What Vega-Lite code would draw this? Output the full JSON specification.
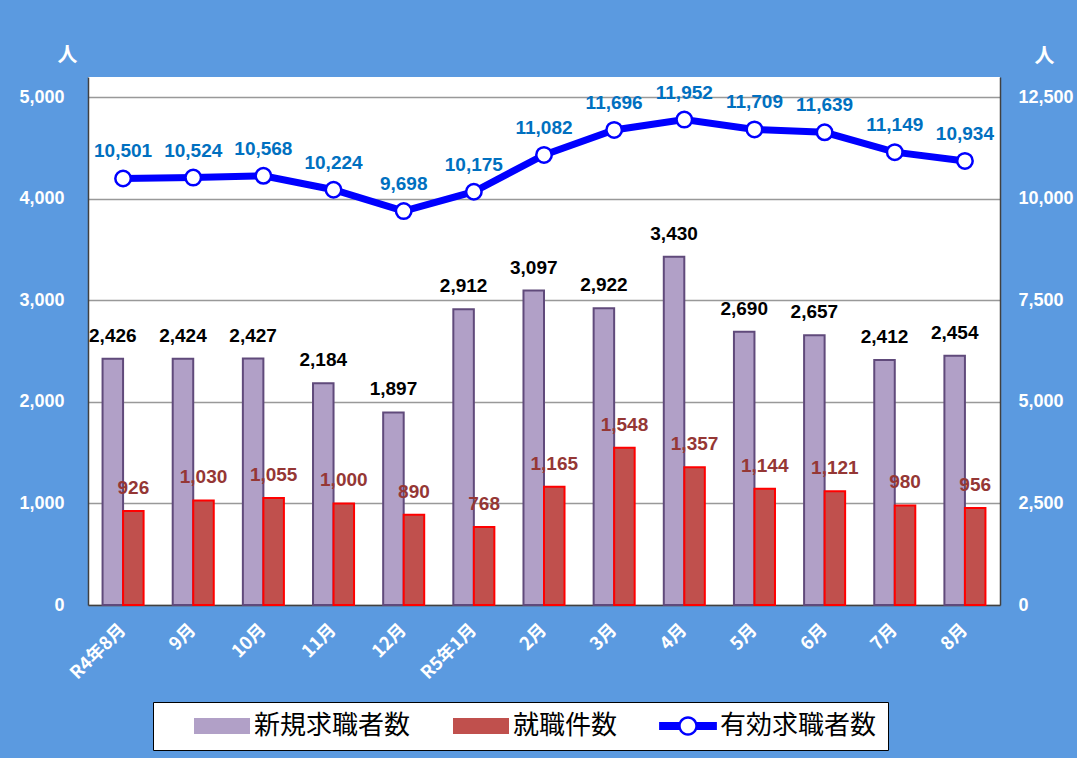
{
  "$schema": "https://vega.github.io/schema/vega-lite/v6.json",
  "width": 912,
  "height": 528,
  "autosize": {"type": "none"},
  "padding": {"left": 88, "top": 77, "right": 77, "bottom": 153},
  "background": "#5b9ae0",
  "config": {
    "view": {"fill": "white", "stroke": null},
    "font": "Liberation Sans"
  },
  "datasets": {
    "main": [
      {"month": "R4年8月", "series": "新規求職者数", "value": 2426},
      {"month": "9月", "series": "新規求職者数", "value": 2424},
      {"month": "10月", "series": "新規求職者数", "value": 2427},
      {"month": "11月", "series": "新規求職者数", "value": 2184},
      {"month": "12月", "series": "新規求職者数", "value": 1897},
      {"month": "R5年1月", "series": "新規求職者数", "value": 2912},
      {"month": "2月", "series": "新規求職者数", "value": 3097},
      {"month": "3月", "series": "新規求職者数", "value": 2922},
      {"month": "4月", "series": "新規求職者数", "value": 3430},
      {"month": "5月", "series": "新規求職者数", "value": 2690},
      {"month": "6月", "series": "新規求職者数", "value": 2657},
      {"month": "7月", "series": "新規求職者数", "value": 2412},
      {"month": "8月", "series": "新規求職者数", "value": 2454},
      {"month": "R4年8月", "series": "就職件数", "value": 926},
      {"month": "9月", "series": "就職件数", "value": 1030},
      {"month": "10月", "series": "就職件数", "value": 1055},
      {"month": "11月", "series": "就職件数", "value": 1000},
      {"month": "12月", "series": "就職件数", "value": 890},
      {"month": "R5年1月", "series": "就職件数", "value": 768},
      {"month": "2月", "series": "就職件数", "value": 1165},
      {"month": "3月", "series": "就職件数", "value": 1548},
      {"month": "4月", "series": "就職件数", "value": 1357},
      {"month": "5月", "series": "就職件数", "value": 1144},
      {"month": "6月", "series": "就職件数", "value": 1121},
      {"month": "7月", "series": "就職件数", "value": 980},
      {"month": "8月", "series": "就職件数", "value": 956},
      {"month": "R4年8月", "series": "有効求職者数", "value": 10501},
      {"month": "9月", "series": "有効求職者数", "value": 10524},
      {"month": "10月", "series": "有効求職者数", "value": 10568},
      {"month": "11月", "series": "有効求職者数", "value": 10224},
      {"month": "12月", "series": "有効求職者数", "value": 9698},
      {"month": "R5年1月", "series": "有効求職者数", "value": 10175},
      {"month": "2月", "series": "有効求職者数", "value": 11082},
      {"month": "3月", "series": "有効求職者数", "value": 11696},
      {"month": "4月", "series": "有効求職者数", "value": 11952},
      {"month": "5月", "series": "有効求職者数", "value": 11709},
      {"month": "6月", "series": "有効求職者数", "value": 11639},
      {"month": "7月", "series": "有効求職者数", "value": 11149},
      {"month": "8月", "series": "有効求職者数", "value": 10934}
    ]
  },
  "layer": [
    {
      "data": {"name": "main"},
      "transform": [{"filter": "datum.series !== '有効求職者数'"}],
      "encoding": {
        "x": {
          "field": "month",
          "type": "nominal",
          "scale": {
            "domain": ["R4年8月", "9月", "10月", "11月", "12月", "R5年1月", "2月", "3月", "4月", "5月", "6月", "7月", "8月"],
            "paddingInner": 0.415,
            "paddingOuter": 0.2075
          },
          "axis": {
            "title": null,
            "labelAngle": -45,
            "labelAlign": "right",
            "labelBaseline": "middle",
            "labelColor": "white",
            "labelFont": "Noto Sans CJK JP",
            "labelFontSize": 18,
            "labelFontWeight": "bold",
            "labelPadding": 22,
            "ticks": false,
            "domain": true,
            "domainColor": "#404040",
            "domainWidth": 1.5
          }
        },
        "xOffset": {
          "field": "series",
          "type": "nominal",
          "scale": {"domain": ["新規求職者数", "就職件数"]}
        },
        "y": {
          "field": "value",
          "type": "quantitative",
          "scale": {"domain": [0, 5200], "nice": false, "zero": true},
          "axis": {
            "values": [0, 1000, 2000, 3000, 4000, 5000],
            "format": ",.0f",
            "title": "人",
            "titleAngle": 0,
            "titleX": -21,
            "titleY": -22,
            "titleAlign": "center",
            "titleBaseline": "middle",
            "titleColor": "white",
            "titleFont": "Noto Sans CJK JP",
            "titleFontSize": 20,
            "titleFontWeight": "bold",
            "labelColor": "white",
            "labelFontSize": 18,
            "labelFontWeight": "bold",
            "labelPadding": 24,
            "ticks": false,
            "domain": true,
            "domainColor": "#404040",
            "domainWidth": 1.5,
            "grid": true,
            "gridColor": "#999999",
            "gridWidth": 1.5
          }
        }
      },
      "layer": [
        {
          "mark": {"type": "bar", "strokeWidth": 2},
          "encoding": {
            "color": {
              "field": "series",
              "type": "nominal",
              "scale": {
                "domain": ["新規求職者数", "就職件数", "有効求職者数"],
                "range": ["#b1a0c7", "#c0504d", "#0000ff"]
              },
              "legend": {
                "title": null,
                "orient": "none",
                "legendX": 65,
                "legendY": 625,
                "direction": "horizontal",
                "fillColor": "white",
                "strokeColor": "black",
                "padding": 11,
                "symbolSize": 2916,
                "symbolOffset": 45,
                "labelOffset": 19,
                "columnPadding": 12,
                "labelFont": "Noto Sans CJK JP",
                "labelFontSize": 26,
                "labelColor": "black",
                "labelLimit": 400,
                "symbolType": {"expr": "datum.value === '有効求職者数' ? 'M-1.07,-0.15L-0.3,-0.15L-0.3,0.15L-1.07,0.15Z M0.3,-0.15L1.07,-0.15L1.07,0.15L0.3,0.15Z M0.36,0A0.36,0.36 0 1,1 -0.36,0A0.36,0.36 0 1,1 0.36,0Z M0.27,0A0.27,0.27 0 1,0 -0.27,0A0.27,0.27 0 1,0 0.27,0Z' : 'M-1,-0.26L1,-0.26L1,0.26L-1,0.26Z'"},
                "symbolStrokeWidth": {"expr": "datum.value === '有効求職者数' ? 0 : 2"}
              }
            },
            "stroke": {
              "field": "series",
              "type": "nominal",
              "scale": {
                "domain": ["新規求職者数", "就職件数", "有効求職者数"],
                "range": ["#604a7b", "#ff0000", "#0000ff"]
              }
            }
          }
        },
        {
          "mark": {"type": "text", "baseline": "alphabetic", "dy": -17, "fontSize": 19, "fontWeight": "bold"},
          "encoding": {
            "text": {"field": "value", "type": "quantitative", "format": ","},
            "color": {
              "condition": {"test": "datum.series === '就職件数'", "value": "#953735"},
              "value": "#000000"
            }
          }
        }
      ]
    },
    {
      "data": {"name": "main"},
      "transform": [{"filter": "datum.series === '有効求職者数'"}],
      "encoding": {
        "x": {"field": "month", "type": "nominal"},
        "y": {
          "field": "value",
          "type": "quantitative",
          "scale": {"domain": [0, 13000], "nice": false, "zero": true},
          "axis": {
            "orient": "right",
            "values": [0, 2500, 5000, 7500, 10000, 12500],
            "format": ",.0f",
            "title": "人",
            "titleAngle": 0,
            "titleX": 44,
            "titleY": -21,
            "titleAlign": "center",
            "titleBaseline": "middle",
            "titleColor": "white",
            "titleFont": "Noto Sans CJK JP",
            "titleFontSize": 20,
            "titleFontWeight": "bold",
            "labelColor": "white",
            "labelFontSize": 18,
            "labelFontWeight": "bold",
            "labelPadding": 18,
            "ticks": false,
            "domain": true,
            "domainColor": "#404040",
            "domainWidth": 1.5,
            "grid": false
          }
        }
      },
      "layer": [
        {
          "mark": {"type": "line", "strokeWidth": 7},
          "encoding": {
            "color": {
              "field": "series",
              "type": "nominal",
              "scale": {
                "domain": ["新規求職者数", "就職件数", "有効求職者数"],
                "range": ["#b1a0c7", "#c0504d", "#0000ff"]
              },
              "legend": null
            }
          }
        },
        {
          "mark": {"type": "point", "filled": true, "fill": "white", "stroke": "#0000ff", "strokeWidth": 2.5, "size": 240, "opacity": 1}
        },
        {
          "mark": {"type": "text", "baseline": "alphabetic", "dy": -21, "fontSize": 19, "fontWeight": "bold", "color": "#0070c0"},
          "encoding": {
            "text": {"field": "value", "type": "quantitative", "format": ","}
          }
        }
      ]
    }
  ],
  "resolve": {"scale": {"y": "independent"}}
}
